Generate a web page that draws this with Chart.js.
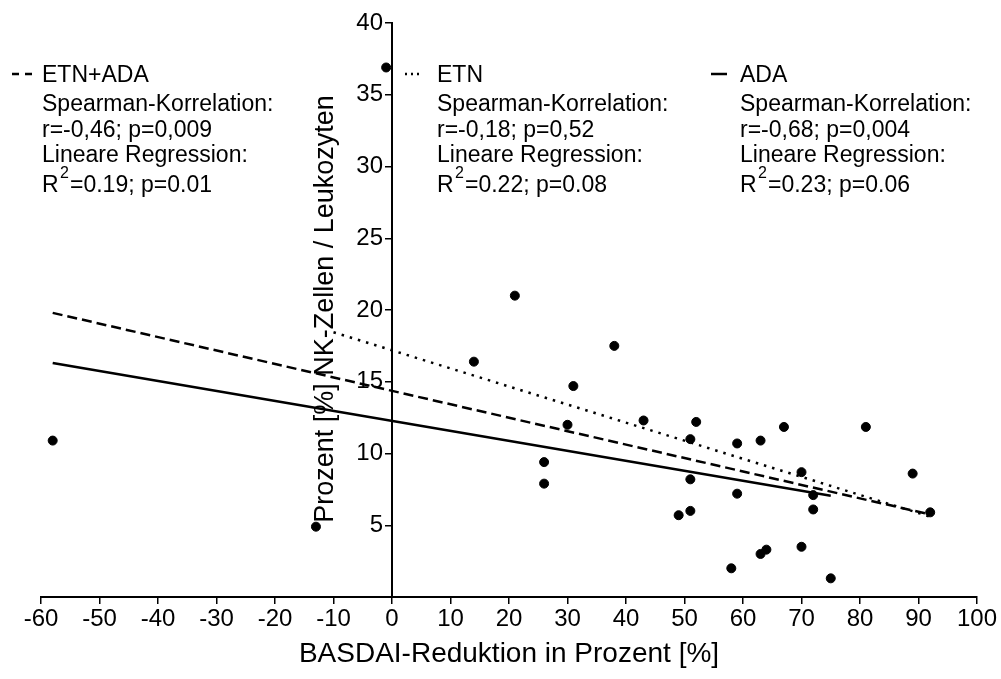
<!DOCTYPE html>
<html lang="de">
<head>
<meta charset="UTF-8">
<title>NK-Zellen und BASDAI-Reduktion</title>
<style>
  body { margin: 0; background: #fff; }
  canvas { display: block; }
</style>
</head>
<body>
<canvas id="chart" width="1001" height="679"></canvas>
<script src="https://cdn.jsdelivr.net/npm/chart.js"></script>
<script>
// Messwerte: BASDAI-Reduktion [%] und Anteil NK-Zellen an Leukozyten [%]
const basdaiReduktion = [-58, -13, -1, 14, 21, 26, 26, 30, 31, 38, 43, 49, 51, 51, 51, 52, 58, 59, 59, 63,
                         63, 64, 67, 70, 70, 72, 72, 75, 81, 89, 92];
const nkAnteil = [10.9, 4.9, 36.9, 16.4, 21.0, 9.4, 7.9, 12.0, 14.7, 17.5, 12.3, 5.7, 11.0, 8.2, 6.0, 12.2, 2.0, 10.7, 7.2, 10.9,
                  3.0, 3.3, 11.85, 8.7, 3.5, 7.1, 6.1, 1.3, 11.85, 8.6, 5.9];

// Regressionsgeraden (Anfangs- und Endpunkt)
const etnAdaX = [-58, 92], etnAdaY = [19.8, 5.75];
const etnX = [-10, 92], etnY = [18.45, 5.6];
const adaX = [-58, 75], adaY = [16.3, 7.05];

// Beschriftung der Gruppen
const gruppen = ['ETN+ADA', 'ETN', 'ADA'];
const spearman = ['r=-0,46; p=0,009', 'r=-0,18; p=0,52', 'r=-0,68; p=0,004'];
const regression = ['=0.19; p=0.01', '=0.22; p=0.08', '=0.23; p=0.06'];

const FONT = '"Liberation Sans", Arial, sans-serif';

function toPoints(xs, ys) {
    return xs.map((x, i) => ({ x: x, y: ys[i] }));
}

const lineStyles = [
    { dash: [10, 5], sample: [12, 32], legendDash: [7, 6], textX: 42 },
    { dash: [2.5, 6], sample: [405, 423], legendDash: [2, 4], textX: 437 },
    { dash: [], sample: [711, 727], legendDash: [], textX: 740 }
];

// y-Achse liegt bei x=0: Beschriftung etwas links von den Teilstrichen
const yLabelOffset = {
    id: 'yLabelOffset',
    beforeDraw(chart) {
        const items = chart.scales.y.getLabelItems();
        if (items._shifted) return;
        items.forEach(it => { it.options.translation[0] -= 9; });
        items._shifted = true;
    }
};

// Texte oben im Diagramm und y-Achsentitel
const annotations = {
    id: 'annotations',
    afterDraw(chart) {
        const ctx = chart.ctx;
        ctx.save();
        ctx.fillStyle = '#000';
        ctx.strokeStyle = '#000';
        ctx.textBaseline = 'alphabetic';
        ctx.textAlign = 'left';

        const baselines = [82, 110.5, 136.5, 162, 192];
        gruppen.forEach((name, i) => {
            const st = lineStyles[i];
            ctx.lineWidth = 2.5;
            ctx.setLineDash(st.legendDash);
            ctx.beginPath();
            ctx.moveTo(st.sample[0], 74);
            ctx.lineTo(st.sample[1], 74);
            ctx.stroke();
            ctx.setLineDash([]);

            ctx.font = '23px ' + FONT;
            ctx.fillText(name, st.textX, baselines[0]);
            ctx.fillText('Spearman-Korrelation:', st.textX, baselines[1]);
            ctx.fillText(spearman[i], st.textX, baselines[2]);
            ctx.fillText('Lineare Regression:', st.textX, baselines[3]);
            ctx.fillText('R', st.textX, baselines[4]);
            let x = st.textX + ctx.measureText('R').width + 1.5;
            ctx.font = '16px ' + FONT;
            ctx.fillText('2', x, baselines[4] - 14);
            x += ctx.measureText('2').width + 1;
            ctx.font = '23px ' + FONT;
            ctx.fillText(regression[i], x, baselines[4]);
        });

        ctx.translate(333, 309);
        ctx.rotate(-Math.PI / 2);
        ctx.textAlign = 'center';
        ctx.font = '27px ' + FONT;
        ctx.fillText('Prozent [%] NK-Zellen / Leukozyten', 0, 0);
        ctx.restore();
    }
};

const lineDataset = (xs, ys, i) => ({
    data: toPoints(xs, ys),
    showLine: true,
    pointRadius: 0,
    borderColor: '#000',
    borderWidth: 2.5,
    borderDash: lineStyles[i].dash,
    borderCapStyle: 'butt',
    order: 1
});

new Chart(document.getElementById('chart'), {
    type: 'scatter',
    data: {
        datasets: [
            {
                data: toPoints(basdaiReduktion, nkAnteil),
                pointRadius: 4.5,
                pointBackgroundColor: '#000',
                pointBorderColor: '#000',
                pointBorderWidth: 1,
                order: 0
            },
            lineDataset(etnAdaX, etnAdaY, 0),
            lineDataset(etnX, etnY, 1),
            lineDataset(adaX, adaY, 2)
        ]
    },
    options: {
        responsive: false,
        animation: false,
        devicePixelRatio: 1,
        layout: { padding: { left: 41, right: 24, top: 23, bottom: 0 } },
        plugins: {
            legend: { display: false },
            tooltip: { enabled: false }
        },
        scales: {
            x: {
                type: 'linear',
                min: -60,
                max: 100,
                ticks: { stepSize: 10, color: '#000', padding: 1, font: { family: FONT, size: 24 } },
                grid: { drawOnChartArea: false, tickLength: 7, color: '#000', lineWidth: 1.5 },
                border: { color: '#000', width: 2 },
                title: {
                    display: true,
                    text: 'BASDAI-Reduktion in Prozent [%]',
                    color: '#000',
                    font: { family: FONT, size: 28 },
                    padding: { top: 2, bottom: 8 }
                },
                afterFit: s => { s.height = 82; }
            },
            y: {
                type: 'linear',
                position: { x: 0 },
                min: 0,
                max: 40,
                ticks: {
                    stepSize: 5,
                    color: '#000',
                    font: { family: FONT, size: 24 },
                    callback: v => (v === 0 ? '' : v)
                },
                grid: { drawOnChartArea: false, tickLength: 6, color: '#000', lineWidth: 1.5 },
                border: { color: '#000', width: 2 },
                afterFit: s => { s.width = 0; }
            }
        }
    },
    plugins: [yLabelOffset, annotations]
});
</script>
</body>
</html>
